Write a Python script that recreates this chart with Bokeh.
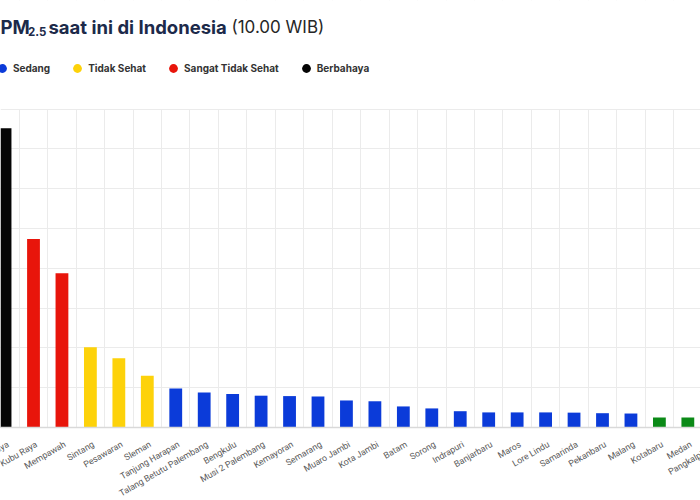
import math

from bokeh.core.properties import value
from bokeh.embed import file_html
from bokeh.models import (BoxAnnotation, ColumnDataSource, FixedTicker, Label,
                          Legend, LegendItem, Range1d, Span)
from bokeh.plotting import figure
from bokeh.resources import INLINE

# PM2.5 per station (ug/m3)
stations = ["Palangka Raya", "Kubu Raya", "Mempawah", "Sintang", "Pesawaran",
            "Sleman", "Tanjung Harapan", "Talang Betutu Palembang", "Bengkulu",
            "Musi 2 Palembang", "Kemayoran", "Semarang", "Muaro Jambi",
            "Kota Jambi", "Batam", "Sorong", "Indrapuri", "Banjarbaru", "Maros",
            "Lore Lindu", "Samarinda", "Pekanbaru", "Malang", "Kotabaru",
            "Medan", "Pangkalpinang"]
pm25 = [376, 237, 194, 101, 87, 65, 49, 44, 42, 40, 39.5, 39, 34, 33, 26.5,
        24, 20.5, 19, 19, 19, 18.7, 18, 17.6, 12.6, 12.6, 12]
status = ["Berbahaya", "Sangat Tidak Sehat", "Sangat Tidak Sehat",
          "Tidak Sehat", "Tidak Sehat", "Tidak Sehat"] + ["Sedang"] * 17 + ["Baik"] * 3

levels = ["Baik", "Sedang", "Tidak Sehat", "Sangat Tidak Sehat", "Berbahaya"]
level_colors = ["#0b8a17", "#0b3bd9", "#fdd20a", "#e8150b", "#050505"]
legend_levels = ["Sedang", "Tidak Sehat", "Sangat Tidak Sehat", "Berbahaya"]
y_ticks = list(range(0, 401, 50))

# the frame fills the whole canvas; title, legend and station names sit
# inside it, so they get cut at the edges like the cropped original
p = figure(width=700, height=500, output_backend="svg", toolbar_location=None,
           x_range=Range1d(-0.16, 24.445), y_range=Range1d(-91.7, 536.6),
           x_axis_location=None, y_axis_location=None, tools="")
p.min_border = 0
p.outline_line_color = None

p.ygrid.ticker = FixedTicker(ticks=y_ticks)
p.xgrid.ticker = FixedTicker(ticks=[i - 0.5 for i in range(len(stations) + 1)])
p.grid.grid_line_color = "#ebebeb"

# blank out the vertical grid above the top line and below the baseline
top_box = BoxAnnotation(bottom=max(y_ticks), fill_color="white", fill_alpha=1,
                        line_color=None, level="underlay")
bottom_box = BoxAnnotation(top=0, fill_color="white", fill_alpha=1,
                           line_color=None, level="underlay")
p.add_layout(top_box)
p.add_layout(bottom_box)
xg, yg = p.xgrid[0], p.ygrid[0]
p.center = [xg, top_box, bottom_box, yg] + [r for r in p.center
                                           if r not in (xg, yg, top_box, bottom_box)]
p.add_layout(Span(location=0, dimension="width", line_color="#d9d9d9", line_width=1.5))

# one bar renderer per level, so each keeps its own colour;
# a hidden round marker per level gives the legend its dot
dots = {}
for level, color in zip(levels, level_colors):
    idx = [i for i, s in enumerate(status) if s == level]
    src = ColumnDataSource(data=dict(x=idx, top=[pm25[i] for i in idx]))
    p.vbar(x="x", top="top", width=0.45, source=src, fill_color=color, line_color=None)
    dots[level] = p.scatter(x="x", y="top", source=src, marker="circle", size=9,
                            fill_color=color, line_color=None, visible=False)

# station names under the bars
names = ColumnDataSource(data=dict(x=list(range(len(stations))),
                                   y=[0] * len(stations), name=stations))
p.text(x="x", y="y", text="name", source=names, angle=math.pi / 6,
       text_align="right", text_baseline="middle", x_offset=3, y_offset=16,
       text_font=value("Roboto"), text_font_size="8.8px", text_color="#5a5a5a")

# title in pieces, for the subscript and the lighter time
navy = "#1c2a4a"
title_parts = [
    dict(x=0, y=473.5, text="PM", size="18.5px", style="bold", color=navy),
    dict(x=27.5, y=469.5, text="2.5", size="11.5px", style="bold", color=navy),
    dict(x=48, y=473.5, text="saat ini di Indonesia", size="18.5px", style="bold", color=navy),
    dict(x=231, y=473.5, text="(10.00 WIB)", size="17px", style="normal", color="#262626"),
]
for t in title_parts:
    p.add_layout(Label(x=t["x"], y=t["y"], x_units="screen", y_units="screen",
                       text=t["text"], text_font="Inter", text_font_size=t["size"],
                       text_font_style=t["style"], text_color=t["color"],
                       text_baseline="alphabetic"))

legend = Legend(items=[LegendItem(label=lv, renderers=[dots[lv]]) for lv in legend_levels],
                orientation="horizontal", location=(-9, 421),
                padding=0, margin=0, spacing=16, glyph_width=22, glyph_height=22,
                label_height=14, label_standoff=0,
                label_text_font="Inter", label_text_font_size="10px",
                label_text_font_style="bold", label_text_color="#333333",
                border_line_color=None, background_fill_alpha=0)
p.add_layout(legend)

open("out.html", "w").write(file_html(p, INLINE))
